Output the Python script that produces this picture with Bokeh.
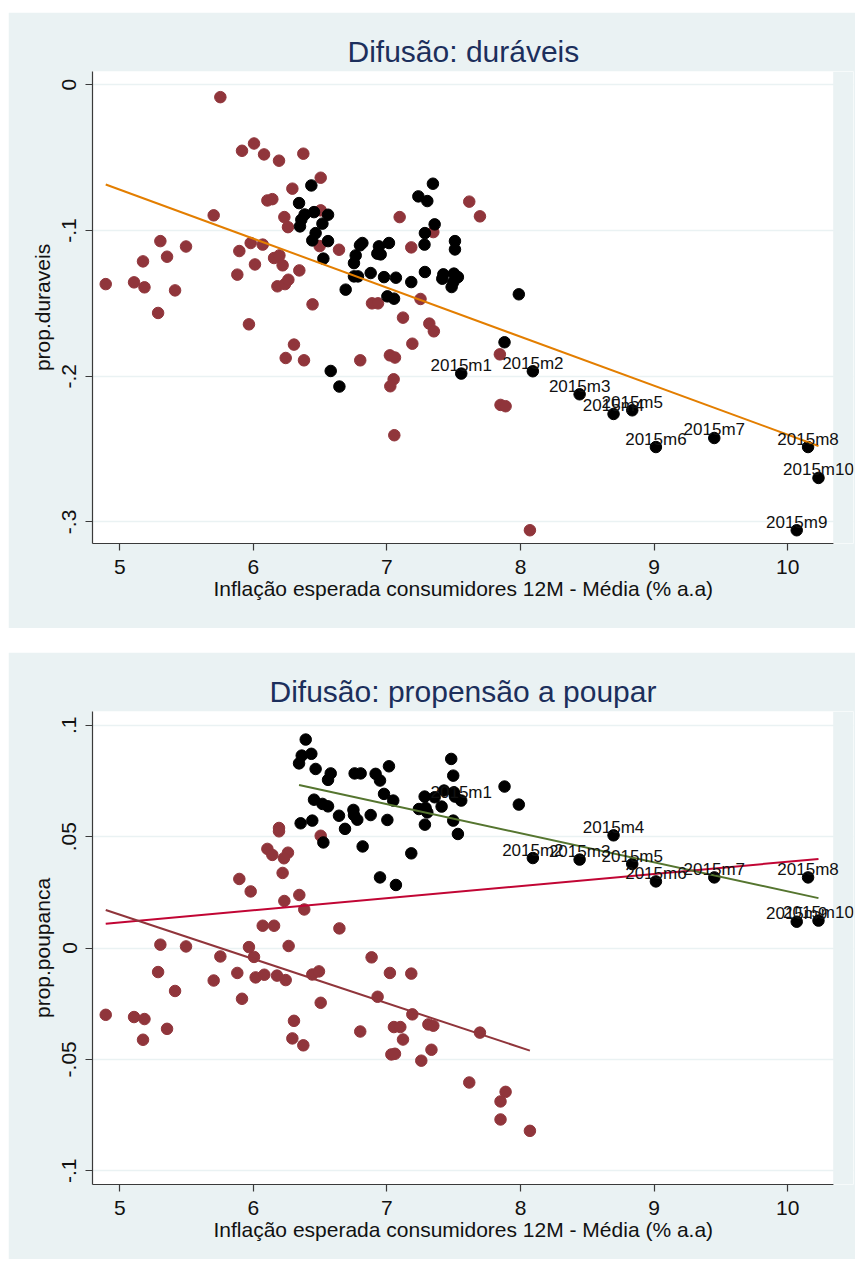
import numpy as np
from bokeh.plotting import figure
from bokeh.models import Range1d, FixedTicker, Label, Spacer, BoxAnnotation, Title
from bokeh.layouts import column, row
from bokeh.embed import file_html
from bokeh.resources import INLINE

# ---------------- data ----------------
x_ticks = [5, 6, 7, 8, 9, 10]

dur_red_x = [4.895, 5.107, 5.185, 5.174, 5.304, 5.354, 5.496, 5.414, 5.287, 5.753, 5.703, 5.915, 6.005, 6.080,
             6.192, 6.374, 6.504, 6.292, 6.105, 6.142, 6.232, 6.259, 5.895, 5.980, 6.070, 6.012, 5.880, 6.155,
             6.195, 6.219, 6.344, 6.180, 6.237, 6.262, 6.496, 6.641, 6.443, 6.888, 6.933, 7.095, 7.182, 7.120,
             7.251, 6.504, 5.967, 6.304, 6.242, 6.379, 6.800, 7.022, 7.060, 7.050, 7.025, 7.055, 7.190, 7.317,
             7.351, 7.845, 7.850, 7.888, 8.070, 7.616, 7.696, 7.347]
dur_red_y = [-0.1368, -0.1356, -0.1390, -0.1212, -0.1073, -0.1180, -0.1110, -0.1411, -0.1566, -0.0085, -0.0896,
             -0.0453, -0.0403, -0.0478, -0.0521, -0.0473, -0.0638, -0.0713, -0.0794, -0.0785, -0.0908, -0.0977,
             -0.1141, -0.1086, -0.1097, -0.1233, -0.1303, -0.1189, -0.1171, -0.1239, -0.1274, -0.1383, -0.1368,
             -0.1338, -0.1107, -0.1132, -0.1507, -0.1500, -0.1500, -0.0908, -0.1116, -0.1598, -0.1470, -0.0862,
             -0.1644, -0.1783, -0.1875, -0.1891, -0.1891, -0.1857, -0.1872, -0.2021, -0.2069, -0.2405, -0.1777,
             -0.1639, -0.1692, -0.1850, -0.2197, -0.2206, -0.3057, -0.0802, -0.0903, -0.1011]

dur_blk_x = [6.434, 6.342, 6.384, 6.359, 6.349, 6.454, 6.559, 6.517, 6.466, 6.441, 6.559, 6.524, 6.691, 6.816,
             6.798, 6.766, 6.753, 6.753, 6.783, 6.878, 6.940, 6.928, 6.953, 7.015, 6.978, 7.067, 7.003, 7.053,
             7.182, 7.235, 7.302, 7.344, 7.357, 7.284, 7.281, 7.284, 7.509, 7.509, 7.422, 7.414, 7.501, 7.531,
             7.497, 7.484, 7.987, 6.579, 6.644, 7.880]
dur_blk_y = [-0.0691, -0.0812, -0.0890, -0.0926, -0.0972, -0.0874, -0.0892, -0.0953, -0.1018, -0.1068, -0.1073,
             -0.1193, -0.1406, -0.1086, -0.1102, -0.1171, -0.1224, -0.1315, -0.1315, -0.1292, -0.1109, -0.1159,
             -0.1164, -0.1086, -0.1320, -0.1324, -0.1452, -0.1468, -0.1354, -0.0766, -0.0798, -0.0679, -0.0958,
             -0.1018, -0.1097, -0.1285, -0.1073, -0.1130, -0.1301, -0.1331, -0.1296, -0.1320, -0.1354, -0.1388,
             -0.1438, -0.1964, -0.2071, -0.1767]

lab_text = ["2015m1", "2015m2", "2015m3", "2015m4", "2015m5", "2015m6", "2015m7", "2015m8", "2015m9", "2015m10"]
lab_x = [7.556, 8.092, 8.442, 8.696, 8.836, 9.013, 9.450, 10.152, 10.067, 10.230]
dur_lab_y = [-0.1982, -0.1966, -0.2124, -0.2259, -0.2234, -0.2486, -0.2424, -0.2486, -0.3057, -0.2698]
pou_lab_y = [0.0662, 0.0404, 0.0397, 0.0506, 0.0377, 0.0299, 0.0317, 0.0317, 0.0118, 0.0123]

pou_red_x = [4.895, 5.107, 5.185, 5.174, 5.287, 5.304, 5.354, 5.414, 5.496, 5.703, 5.753, 5.880, 5.915, 5.967,
             6.005, 6.017, 6.082, 6.177, 6.242, 6.264, 6.304, 6.292, 6.374, 6.441, 6.491, 6.504, 6.800, 6.885,
             6.930, 7.022, 7.052, 7.100, 7.120, 7.033, 7.060, 7.182, 7.190, 7.257, 7.310, 7.333, 7.347, 7.696,
             7.616, 7.888, 7.850, 7.850, 8.070, 5.895, 5.980, 6.070, 6.155, 6.192, 6.192, 6.105, 6.142, 6.259,
             6.229, 6.219, 6.344, 6.232, 6.381, 6.504, 6.644]
pou_red_y = [-0.0300, -0.0310, -0.0319, -0.0412, -0.0108, 0.0015, -0.0363, -0.0193, 0.0007, -0.0146, -0.0038,
             -0.0112, -0.0228, 0.0004, -0.0040, -0.0132, -0.0120, -0.0124, -0.0144, 0.0009, -0.0327, -0.0406,
             -0.0437, -0.0119, -0.0105, -0.0246, -0.0375, -0.0042, -0.0219, -0.0112, -0.0355, -0.0355, -0.0411,
             -0.0478, -0.0475, -0.0115, -0.0298, -0.0506, -0.0343, -0.0457, -0.0349, -0.0380, -0.0604, -0.0646,
             -0.0689, -0.0770, -0.0821, 0.0310, 0.0254, 0.0100, 0.0100, 0.0539, 0.0524, 0.0445, 0.0418, 0.0428,
             0.0403, 0.0337, 0.0238, 0.0211, 0.0173, 0.0504, 0.0088]

pou_blk_x = [6.392, 6.362, 6.434, 6.342, 6.466, 6.579, 6.559, 6.758, 6.803, 6.915, 6.948, 7.015, 7.481, 7.496,
             7.427, 7.357, 7.282, 7.501, 7.509, 7.880, 7.987, 6.978, 7.047, 6.454, 6.517, 6.559, 6.641, 6.749,
             6.753, 6.778, 6.878, 7.003, 6.686, 6.354, 6.441, 6.524, 6.818, 7.239, 7.289, 7.302, 7.409, 7.284,
             7.496, 7.531, 7.182, 6.948, 7.067]
pou_blk_y = [0.0936, 0.0864, 0.0872, 0.0829, 0.0804, 0.0784, 0.0755, 0.0784, 0.0784, 0.0782, 0.0752, 0.0816,
             0.0849, 0.0774, 0.0707, 0.0677, 0.0680, 0.0699, 0.0680, 0.0725, 0.0644, 0.0692, 0.0662, 0.0666,
             0.0647, 0.0636, 0.0594, 0.0620, 0.0597, 0.0576, 0.0597, 0.0575, 0.0535, 0.0560, 0.0572, 0.0474,
             0.0456, 0.0624, 0.0629, 0.0609, 0.0635, 0.0554, 0.0572, 0.0512, 0.0425, 0.0317, 0.0283]

dur_yticks = [0, -0.1, -0.2, -0.3]
dur_ylabels = ["0", "-.1", "-.2", "-.3"]
pou_yticks = [0.1, 0.05, 0, -0.05, -0.1]
pou_ylabels = [".1", ".05", "0", "-.05", "-.1"]

# ---------------- style ----------------
FONT = "Liberation Sans"
BG = "#EAF2F3"
MAROON = "#90353B"
ORANGE = "#E37E00"
GREEN = "#55752F"
CRANBERRY = "#C10534"
TITLE_C = "#1C2F5C"
AXIS_C = "#3A3A3A"
XLAB = "Inflação esperada consumidores 12M - Média (% a.a)"
W = 847
X_LO, X_HI = 4.796, 10.34      # visible plot region
X_EXT = 10.492                 # frame continues (as panel colour) so labels can overhang


def make_fig(height, yr, yticks, ylabels, title, title_off, ylab, bottom):
    p = figure(width=W, height=height, x_range=Range1d(X_LO, X_EXT), y_range=Range1d(*yr),
               output_backend="svg", toolbar_location=None,
               min_border_left=84, min_border_right=2, min_border_top=59, min_border_bottom=bottom)
    p.border_fill_color = BG
    p.background_fill_color = "white"
    p.outline_line_color = None
    p.title.text = title
    p.title.text_font = FONT
    p.title.text_font_size = "30px"
    p.title.text_font_style = "normal"
    p.title.text_color = TITLE_C
    p.title.align = "left"
    p.title.offset = title_off
    p.title.standoff = 7

    p.xaxis.ticker = FixedTicker(ticks=x_ticks)
    p.xaxis.bounds = (X_LO, X_HI)
    p.yaxis.ticker = FixedTicker(ticks=yticks)
    p.yaxis.major_label_overrides = {t: l for t, l in zip(yticks, ylabels)}
    p.yaxis.major_label_orientation = "vertical"
    p.yaxis.axis_label = ylab
    for ax in (p.xaxis, p.yaxis):
        ax.axis_label_text_font = FONT
        ax.axis_label_text_font_size = "21px"
        ax.axis_label_text_font_style = "normal"
        ax.axis_label_text_color = "#111111"
        ax.major_label_text_font = FONT
        ax.major_label_text_font_size = "21px"
        ax.major_label_text_color = "#111111"
        ax.axis_line_color = AXIS_C
        ax.axis_line_width = 1.2
        ax.major_tick_line_color = AXIS_C
        ax.major_tick_line_width = 1.2
        ax.major_tick_out = 7
        ax.major_tick_in = 0
        ax.minor_tick_line_color = None
    p.xaxis.major_label_standoff = 9
    p.yaxis.major_label_standoff = 9
    p.yaxis.axis_label_standoff = 6
    # x-axis title, centred under the visible plot region
    p.add_layout(Title(text=XLAB, align="left", offset=121, standoff=0, vertical_align="top",
                       text_font=FONT, text_font_size="21px", text_font_style="normal",
                       text_color="#111111"), "below")
    p.xgrid.visible = False
    p.ygrid.grid_line_color = BG
    p.ygrid.grid_line_width = 1.5
    # panel-coloured strip to the right of the plot region
    p.add_layout(BoxAnnotation(left=X_HI, fill_color=BG, fill_alpha=1.0, line_color=None))
    return p


def fit_line(p, xs, ys, color):
    xs = np.asarray(xs, dtype=float)
    ys = np.asarray(ys, dtype=float)
    b, a = np.polyfit(xs, ys, 1)
    lx = np.array([xs.min(), xs.max()])
    p.line(lx, a + b * lx, line_color=color, line_width=2)


def add_labels(p, ys):
    for xv, yv, t in zip(lab_x, ys, lab_text):
        p.add_layout(Label(x=xv, y=yv, text=t, x_units="data", y_units="data",
                           text_align="center", text_baseline="alphabetic", y_offset=8,
                           text_font=FONT, text_font_size="17px", text_color="#111111"))


# ---------------- top chart ----------------
p1 = make_fig(616, (-0.3148, 0.0091), dur_yticks, dur_ylabels, "Difusão: duráveis", 255,
              "prop.duraveis", 85)
p1.scatter(dur_red_x, dur_red_y, size=11.5, fill_color=MAROON, line_color=MAROON)
p1.scatter(dur_blk_x + lab_x, dur_blk_y + dur_lab_y, size=11.5, fill_color="black", line_color="black")
fit_line(p1, dur_red_x + dur_blk_x + lab_x, dur_red_y + dur_blk_y + dur_lab_y, ORANGE)
add_labels(p1, dur_lab_y)

# ---------------- bottom chart ----------------
p2 = make_fig(607, (-0.1062, 0.1062), pou_yticks, pou_ylabels, "Difusão: propensão a poupar", 177,
              "prop.poupanca", 75)
p2.scatter(pou_red_x, pou_red_y, size=11.5, fill_color=MAROON, line_color=MAROON)
p2.scatter(pou_blk_x + lab_x, pou_blk_y + pou_lab_y, size=11.5, fill_color="black", line_color="black")
fit_line(p2, pou_red_x + pou_blk_x + lab_x, pou_red_y + pou_blk_y + pou_lab_y, CRANBERRY)
fit_line(p2, pou_blk_x + lab_x, pou_blk_y + pou_lab_y, GREEN)
fit_line(p2, pou_red_x, pou_red_y, MAROON)
add_labels(p2, pou_lab_y)

layout = row(Spacer(width=8, height=10),
             column(Spacer(width=W, height=12), p1, Spacer(width=W, height=24), p2))
open("out.html", "w").write(file_html(layout, INLINE))
